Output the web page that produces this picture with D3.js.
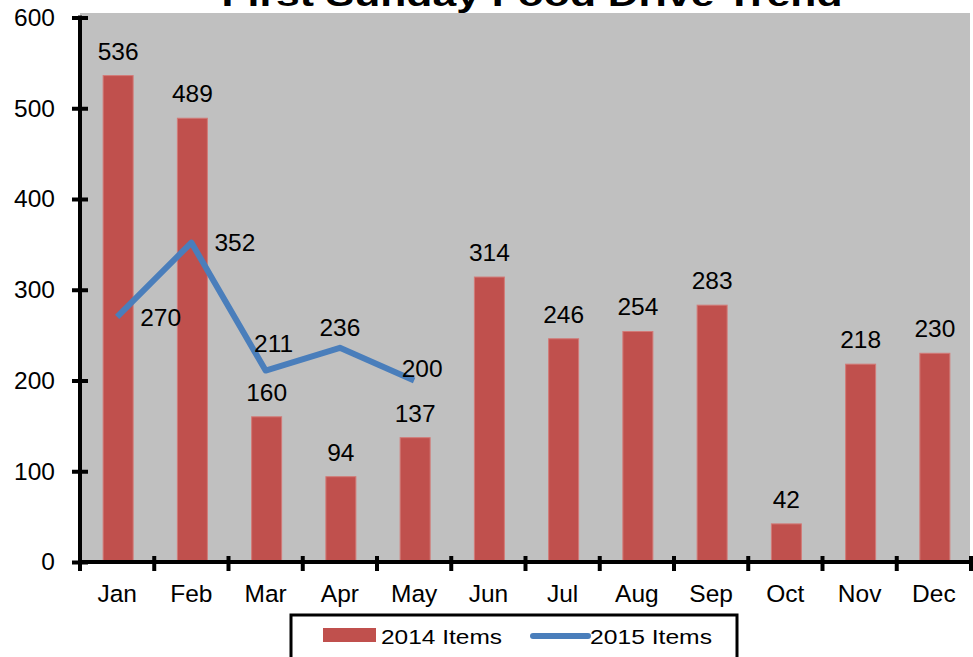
<!DOCTYPE html>
<html>
<head>
<meta charset="utf-8">
<title>First Sunday Food Drive Trend</title>
<script src="https://cdn.jsdelivr.net/npm/d3@7/dist/d3.min.js"></script>
<style>
  body { margin: 0; background: #fff; }
  svg { display: block; font-family: "Liberation Sans", Arial, sans-serif; }
</style>
</head>
<body>
<svg id="chart" width="973" height="657"></svg>
<script>
// chart data
const months = ["Jan", "Feb", "Mar", "Apr", "May", "Jun", "Jul", "Aug", "Sep", "Oct", "Nov", "Dec"];
const items2014 = [536, 489, 160, 94, 137, 314, 246, 254, 283, 42, 218, 230];
const items2015 = [270, 352, 211, 236, 200];
const yTicks = [0, 100, 200, 300, 400, 500, 600];

const svg = d3.select("#chart");
const fs = 24.5;

const plot = { left: 80, right: 971, top: 13, bottom: 562 };

const x = d3.scaleBand().domain(months).range([plot.left, plot.right]).padding(0);
const y = d3.scaleLinear().domain([0, 600]).range([plot.bottom, 17.5]);

// gray plot area
svg.append("rect")
    .attr("x", plot.left).attr("y", plot.top)
    .attr("width", plot.right - plot.left - 1).attr("height", plot.bottom - plot.top)
    .attr("fill", "#c0c0c0");

// title (top is cut off in the reference)
svg.append("text")
    .attr("x", 532).attr("y", 6)
    .attr("text-anchor", "middle")
    .attr("font-size", 34).attr("font-weight", "bold")
    .attr("textLength", 621).attr("lengthAdjust", "spacingAndGlyphs")
    .text("First Sunday Food Drive Trend");

// bars
const barW = 30;
svg.append("g").selectAll("rect")
    .data(items2014)
    .join("rect")
    .attr("x", (d, i) => x(months[i]) + x.bandwidth() / 2 - barW / 2 + 1)
    .attr("y", d => y(d))
    .attr("width", barW)
    .attr("height", d => y(0) - y(d))
    .attr("fill", "#c0504d")
    .attr("stroke", "#d27a77")
    .attr("stroke-width", 1);

// bar labels
svg.append("g").selectAll("text")
    .data(items2014)
    .join("text")
    .attr("x", (d, i) => x(months[i]) + x.bandwidth() / 2 + 1)
    .attr("y", d => y(d) - 16)
    .attr("text-anchor", "middle")
    .attr("font-size", fs)
    .text(d => d);

// 2015 line
const cx = i => x(months[i]) + x.bandwidth() / 2;
const line = d3.line().x((d, i) => cx(i)).y(d => y(d));
svg.append("path")
    .datum(items2015)
    .attr("d", line)
    .attr("fill", "none")
    .attr("stroke", "#4a7ebb")
    .attr("stroke-width", 6)
    .attr("stroke-linejoin", "round");

// line labels, nudged like the spreadsheet did
const nudge = [[23, 0, "start"], [23, 0, "start"], [8, -27, "middle"], [0, -20, "middle"], [8, -12, "middle"]];
svg.append("g").selectAll("text")
    .data(items2015)
    .join("text")
    .attr("x", (d, i) => cx(i) + nudge[i][0])
    .attr("y", (d, i) => y(d) + nudge[i][1])
    .attr("dy", "0.35em")
    .attr("text-anchor", (d, i) => nudge[i][2])
    .attr("font-size", fs)
    .text(d => d);

// y axis
const yAxis = svg.append("g")
    .attr("transform", `translate(${plot.left},0)`)
    .call(d3.axisLeft(y).tickValues(yTicks).tickSize(8).tickPadding(17));
yAxis.select(".domain").attr("d", `M0,${y(600) - 2}V${y(0) + 2}`).attr("stroke", "#000").attr("stroke-width", 4);
yAxis.selectAll(".tick line").attr("x1", -8).attr("x2", 8).attr("stroke-width", 4);
yAxis.selectAll(".tick text").attr("font-size", fs).attr("font-family", "Liberation Sans, Arial, sans-serif").attr("fill", "#000");

// x axis
const xAxis = svg.append("g")
    .attr("transform", `translate(0,${plot.bottom})`)
    .call(d3.axisBottom(x).tickSize(0).tickPadding(31));
xAxis.select(".domain").attr("d", `M${plot.left - 2},0H${plot.right + 2}`).attr("stroke", "#000").attr("stroke-width", 4);
xAxis.selectAll(".tick text").attr("font-size", fs).attr("font-family", "Liberation Sans, Arial, sans-serif").attr("fill", "#000").attr("dy", "0.35em");
xAxis.selectAll(".edge")
    .data(d3.range(months.length + 1))
    .join("line")
    .attr("x1", i => plot.left + i * x.step())
    .attr("x2", i => plot.left + i * x.step())
    .attr("y1", -6).attr("y2", 9)
    .attr("stroke", "#000").attr("stroke-width", 4);

// legend
const legend = svg.append("g");
legend.append("rect")
    .attr("x", 291).attr("y", 615).attr("width", 446).attr("height", 60)
    .attr("fill", "#fff").attr("stroke", "#000").attr("stroke-width", 3);
legend.append("rect")
    .attr("x", 323).attr("y", 628).attr("width", 53).attr("height", 14)
    .attr("fill", "#c0504d");
legend.append("text")
    .attr("x", 381).attr("y", 644).attr("font-size", 21)
    .attr("textLength", 121).attr("lengthAdjust", "spacingAndGlyphs")
    .text("2014 Items");
legend.append("line")
    .attr("x1", 533).attr("x2", 588).attr("y1", 636).attr("y2", 636)
    .attr("stroke", "#4a7ebb").attr("stroke-width", 6).attr("stroke-linecap", "round");
legend.append("text")
    .attr("x", 590).attr("y", 644).attr("font-size", 21)
    .attr("textLength", 122).attr("lengthAdjust", "spacingAndGlyphs")
    .text("2015 Items");
</script>
</body>
</html>
